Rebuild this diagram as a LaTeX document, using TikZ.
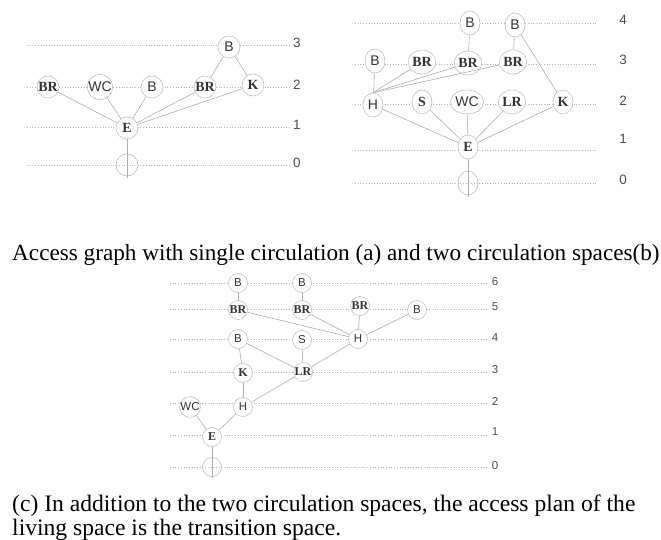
\documentclass[tikz,border=0pt]{standalone}
\usepackage{fontspec}
\setmainfont{Liberation Serif}
\newfontfamily\arialf{Liberation Sans}
\usetikzlibrary{shapes.geometric}
\begin{document}
\begin{tikzpicture}[x=1pt,y=-1pt,
  lvl/.style={draw=gray!60, dotted, line width=0.7pt},
  num/.style={font=\arialf\fontsize{13.5}{13.5}\selectfont, text=black!70, inner sep=0pt},
  edge/.style={draw=gray!65, line width=0.6pt},
  rm/.style={circle, draw=gray!50, fill=white, minimum size=22pt, inner sep=0pt, line width=0.6pt, text=black!80},
  rmb/.style={ellipse, draw=gray!50, fill=white, minimum width=20pt, minimum height=24pt, inner sep=0pt, line width=0.6pt, text=black!80},
  rmc/.style={circle, draw=gray!50, fill=white, minimum size=19pt, inner sep=0pt, line width=0.6pt, text=black!80},
  root/.style={circle, draw=gray!55, minimum size=22pt, inner sep=0pt, line width=0.6pt},
  sr/.style={font=\bfseries\fontsize{14}{14}\selectfont},
  ss/.style={font=\arialf\fontsize{14}{14}\selectfont},
  srs/.style={font=\bfseries\fontsize{12}{12}\selectfont},
  sss/.style={font=\arialf\fontsize{11.5}{11.5}\selectfont},
  captext/.style={font=\fontsize{23.2}{25}\selectfont, inner sep=0pt, anchor=base west}
]
\useasboundingbox (0,0) rectangle (661,540);

% ---------- (a) single circulation ----------
\foreach \y/\n in {45/3,87/2,127/1,165/0}{
  \draw[lvl] (27,\y) -- (290,\y);
  \node[num] (an\n) at (297,\y-2) {\n};
}
\node[rm,sr] (aBRa) at (48,87) {BR};
\node[rm,ss] (aWC)  at (100,87) {WC};
\node[rm,ss] (aBa)  at (152,87) {B};
\node[rm,sr] (aBRb) at (205,87) {BR};
\node[rm,sr] (aK)   at (253,85) {K};
\node[rm,ss] (aBb)  at (229,47) {B};
\node[rm,sr] (aE)   at (127,128) {E};
\node[root] (aO)    at (127,165) {};
\coordinate (aOb) at (127,178);
\foreach \t in {aBRa,aWC,aBa,aBRb,aK} \draw[edge] (aE) -- (\t);
\draw[edge] (aBb) -- (aBRb);
\draw[edge] (aBb) -- (aK);
\draw[edge] (aE) -- (aOb);

% ---------- (b) two circulation spaces ----------
\foreach \y/\n/\ny in {23/4/20,64/3/60,104/2/101,150/1/139,183/0/180}{
  \draw[lvl] (355,\y) -- (598,\y);
  \node[num] (bn\n) at (623,\ny) {\n};
}
\node[rmb,ss] (bBa)  at (470,23) {B};
\node[rmb,ss] (bBb)  at (515,25) {B};
\node[rmb,ss] (bBc)  at (375,61) {B};
\node[rmb,sr] (bBRa) at (422,62) {BR};
\node[rmb,sr] (bBRb) at (468,63) {BR};
\node[rmb,sr] (bBRc) at (513,62) {BR};
\node[rmb,ss] (bH)   at (373,105) {H};
\node[rmb,sr] (bS)   at (422,102) {S};
\node[rmb,ss] (bWC)  at (467,102) {WC};
\node[rmb,sr] (bLR)  at (512,102) {LR};
\node[rmb,sr] (bK)   at (563,102) {K};
\node[rmb,sr] (bE)   at (468,147) {E};
\node[root, ellipse, minimum width=20pt, minimum height=24pt] (bO) at (468,183) {};
\coordinate (bOb) at (468,197);
\draw[edge] (bBa) -- (bBRb);
\draw[edge] (bBb) -- (bBRc);
\draw[edge] (bBb) -- (bK);
\draw[edge] (bH) -- (bBc);
\draw[edge] (bH.north) -- (bBRa);
\draw[edge] (bH.north) -- (bBRb);
\draw[edge] (bH.north) -- (bBRc);
\foreach \t in {bH,bS,bWC,bLR,bK} \draw[edge] (bE) -- (\t);
\draw[edge] (bE) -- (bOb);

% ---------- caption (a),(b) ----------
\node[captext] (capab) at (12,260) {Access graph with single circulation (a) and two circulation spaces(b)};

% ---------- (c) transition space ----------
\foreach \y/\n/\ny in {283/6/282,309/5/307,339/4/338,372/3/370,403/2/401,435/1/432,467/0/466}{
  \draw[lvl] (170,\y) -- (488,\y);
  \node[num, font=\arialf\fontsize{11.5}{11.5}\selectfont] (cn\n) at (495,\ny) {\n};
}
\node[rmc,sss] (cBa)  at (238,283) {B};
\node[rmc,sss] (cBb)  at (302,283) {B};
\node[rmc,srs] (cBRa) at (238,310) {BR};
\node[rmc,srs] (cBRb) at (302,310) {BR};
\node[rmc,srs] (cBRc) at (360,306) {BR};
\node[rmc,sss] (cBc)  at (417,310) {B};
\node[rmc,sss] (cBd)  at (238,339) {B};
\node[rmc,sss] (cS)   at (302,340) {S};
\node[rmc,sss] (cHa)  at (358,339) {H};
\node[rmc,srs] (cK)   at (243,373) {K};
\node[rmc,srs] (cLR)  at (303,372) {LR};
\node[rmc,sss] (cWC)  at (190,407) {WC};
\node[rmc,sss] (cHb)  at (243,407) {H};
\node[rmc,srs] (cE)   at (212,437) {E};
\node[root, minimum size=19pt] (cO) at (212,467) {};
\coordinate (cOb) at (212,478);
\draw[edge] (cBa) -- (cBRa);
\draw[edge] (cBb) -- (cBRb);
\draw[edge] (cBRa) -- (cHa);
\draw[edge] (cBRb) -- (cHa);
\draw[edge] (cBRc) -- (cHa);
\draw[edge] (cBc) -- (cHa);
\draw[edge] (cBd) -- (cLR);
\draw[edge] (cS) -- (cLR);
\draw[edge] (cHa) -- (cLR);
\draw[edge] (cBd) -- (cK);
\draw[edge] (cK) -- (cHb);
\draw[edge] (cHb) -- (cLR);
\draw[edge] (cWC) -- (cE);
\draw[edge] (cHb) -- (cE);
\draw[edge] (cE) -- (cOb);

% ---------- caption (c) ----------
\node[captext, font=\fontsize{23.6}{25}\selectfont] (capc1) at (12,511.5) {(c) In addition to the two circulation spaces, the access plan of the};
\node[captext, font=\fontsize{23.6}{25}\selectfont] (capc2) at (12,535) {living space is the transition space.};
\end{tikzpicture}
\end{document}
